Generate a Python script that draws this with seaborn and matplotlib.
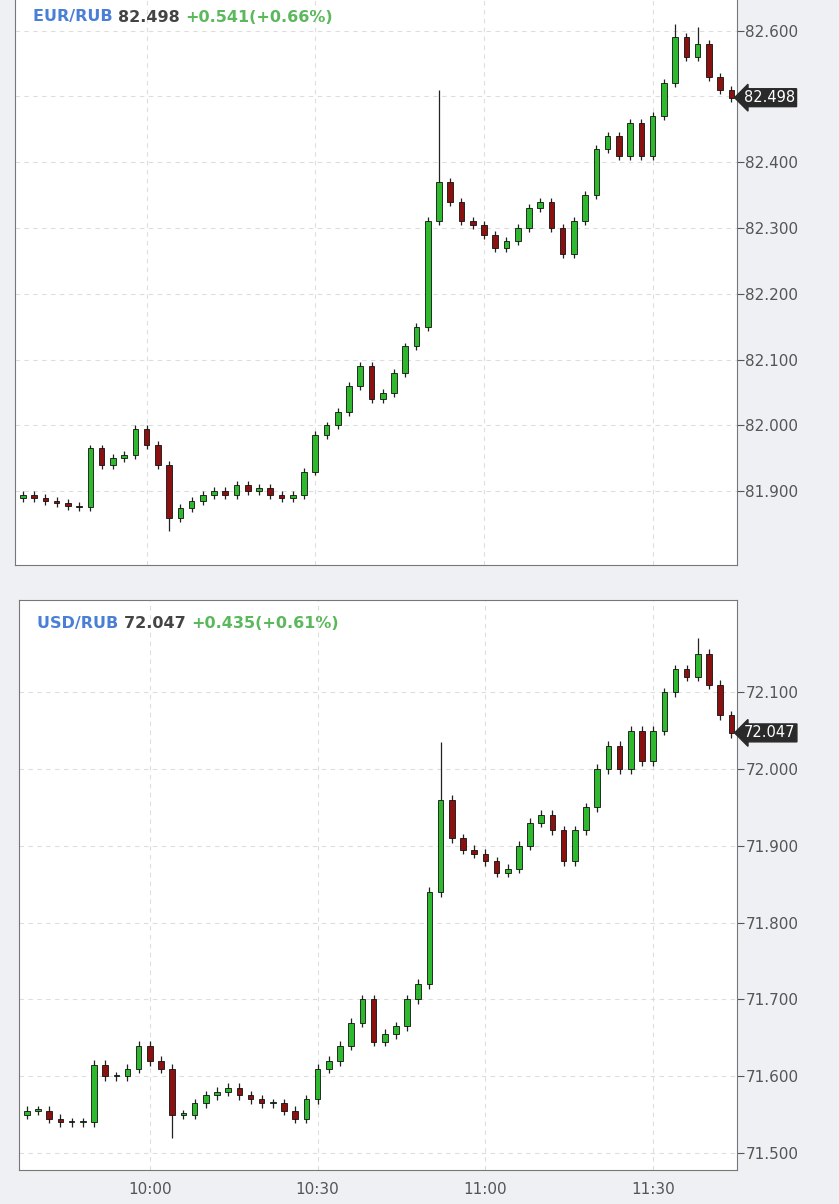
import numpy as np
import pandas as pd
import matplotlib
matplotlib.use("Agg")
import matplotlib.pyplot as plt
from matplotlib.ticker import FixedLocator, FuncFormatter
import seaborn as sns

sns.set_style("white")
plt.rcParams["font.family"] = ["DejaVu Sans"]

# 2-minute candles starting 09:38
start_minute = 9 * 60 + 38
eur_open0 = 81.890
eur_close = [81.895, 81.890, 81.885, 81.882, 81.878, 81.876, 81.965, 81.940, 81.950, 81.955,
             81.995, 81.970, 81.940, 81.860, 81.875, 81.885, 81.895, 81.900, 81.895, 81.910,
             81.900, 81.905, 81.895, 81.890, 81.895, 81.930, 81.985, 82.000, 82.020, 82.060,
             82.090, 82.040, 82.050, 82.080, 82.120, 82.150, 82.310, 82.370, 82.340, 82.310,
             82.305, 82.290, 82.270, 82.280, 82.300, 82.330, 82.340, 82.300, 82.260, 82.310,
             82.350, 82.420, 82.440, 82.410, 82.460, 82.410, 82.470, 82.520, 82.590, 82.560,
             82.580, 82.530, 82.510, 82.498]
eur_spikes_high = {37: 82.510, 58: 82.610, 60: 82.605}
eur_spikes_low = {13: 81.840}

usd_open0 = 71.550
usd_close = [71.555, 71.555, 71.545, 71.540, 71.540, 71.540, 71.615, 71.600, 71.600, 71.610,
             71.640, 71.620, 71.610, 71.550, 71.550, 71.565, 71.575, 71.580, 71.585, 71.575,
             71.570, 71.565, 71.565, 71.555, 71.545, 71.570, 71.610, 71.620, 71.640, 71.670,
             71.700, 71.645, 71.655, 71.665, 71.700, 71.720, 71.840, 71.960, 71.910, 71.895,
             71.890, 71.880, 71.865, 71.870, 71.900, 71.930, 71.940, 71.920, 71.880, 71.920,
             71.950, 72.000, 72.030, 72.000, 72.050, 72.010, 72.050, 72.100, 72.130, 72.120,
             72.150, 72.110, 72.070, 72.047]
usd_spikes_high = {37: 72.035, 60: 72.170}
usd_spikes_low = {13: 71.520}

panels = [
    dict(name="EUR/RUB", last="82.498", chg="+0.541(+0.66%)", open0=eur_open0, close=eur_close,
         hi=eur_spikes_high, lo=eur_spikes_low, ylim=(81.788, 82.654),
         yticks=[81.9, 82.0, 82.1, 82.2, 82.3, 82.4, 82.5, 82.6], wick=0.006),
    dict(name="USD/RUB", last="72.047", chg="+0.435(+0.61%)", open0=usd_open0, close=usd_close,
         hi=usd_spikes_high, lo=usd_spikes_low, ylim=(71.478, 72.22),
         yticks=[71.5, 71.6, 71.7, 71.8, 71.9, 72.0, 72.1], wick=0.006),
]

fig = plt.figure(figsize=(8.39, 12.04), dpi=100)
fig.patch.set_facecolor("#eef0f3")
W, H = 839, 1204
boxes = [(15, -5, 737, 565), (19, 600, 737, 1170)]
xticks = [600, 630, 660, 690]
xticklabels = ["10:00", "10:30", "11:00", "11:30"]

for k, (p, (x0, y0, x1, y1)) in enumerate(zip(panels, boxes)):
    ax = fig.add_axes([x0 / W, 1 - y1 / H, (x1 - x0) / W, (y1 - y0) / H])
    ax.set_facecolor("white")
    close = np.array(p["close"])
    opens = np.concatenate([[p["open0"]], close[:-1]])
    t = start_minute + 2 * np.arange(len(close))
    df = pd.DataFrame({"t": t, "open": opens, "close": close})
    df["high"] = df[["open", "close"]].max(axis=1) + p["wick"]
    df["low"] = df[["open", "close"]].min(axis=1) - p["wick"]
    for i, v in p["hi"].items():
        df.loc[i, "high"] = v
    for i, v in p["lo"].items():
        df.loc[i, "low"] = v
    up = df["close"] >= df["open"]
    ax.vlines(df["t"], df["low"], df["high"], color="#222222", lw=0.9, zorder=2)
    body = (df["close"] - df["open"]).abs().clip(lower=0.002)
    ax.bar(df["t"], body, bottom=df[["open", "close"]].min(axis=1), width=1.0,
           color=np.where(up, "#2db82d", "#8b1010"), edgecolor="#111111", lw=0.6, zorder=3)

    ax.set_xlim(576.6, 705)
    ax.set_ylim(*p["ylim"])
    ax.yaxis.tick_right()
    ax.yaxis.set_major_locator(FixedLocator(p["yticks"]))
    ax.yaxis.set_major_formatter(FuncFormatter(lambda v, _: f"{v:.3f}"))
    ax.tick_params(axis="y", direction="out", length=5, labelsize=11, colors="#555555", pad=1)
    ax.xaxis.set_major_locator(FixedLocator(xticks))
    ax.tick_params(axis="x", direction="out", length=5, labelsize=11, colors="#555555")
    if k == 0:
        ax.set_xticklabels([])
    else:
        ax.set_xticklabels(xticklabels)
    ax.grid(True, color="#dddddd", ls=(0, (4, 4)), lw=0.8)
    for s in ax.spines.values():
        s.set_color("#777777")
    ax.spines["top"].set_visible(k == 1)

    # header text
    ty = 1 - 22 / (y1 - y0) if k == 0 else 1 - 24 / (y1 - y0)
    txt = ax.text(0.025, ty, p["name"] + " ", transform=ax.transAxes, color="#4a7fd8",
                  fontsize=11.5, fontweight="bold", va="center")
    fig.canvas.draw()
    ex = txt.get_window_extent()
    inv = ax.transAxes.inverted()
    xa = inv.transform((ex.x1, ex.y0))[0]
    txt2 = ax.text(xa, ty, p["last"] + " ", transform=ax.transAxes, color="#444444",
                   fontsize=11.5, fontweight="bold", va="center")
    fig.canvas.draw()
    xb = inv.transform((txt2.get_window_extent().x1, 0))[0]
    ax.text(xb, ty, p["chg"], transform=ax.transAxes, color="#5cb85c",
            fontsize=11.5, fontweight="bold", va="center")

    # last price tag
    ax.annotate(p["last"], xy=(1.0, close[-1]), xycoords=("axes fraction", "data"),
                xytext=(5, 0), textcoords="offset points", va="center", ha="left",
                fontsize=10.5, color="white",
                bbox=dict(boxstyle="larrow,pad=0.1", fc="#2a2a2a", ec="#2a2a2a"),
                annotation_clip=False, zorder=5)

fig.savefig("out.png", dpi=100, facecolor=fig.get_facecolor())
